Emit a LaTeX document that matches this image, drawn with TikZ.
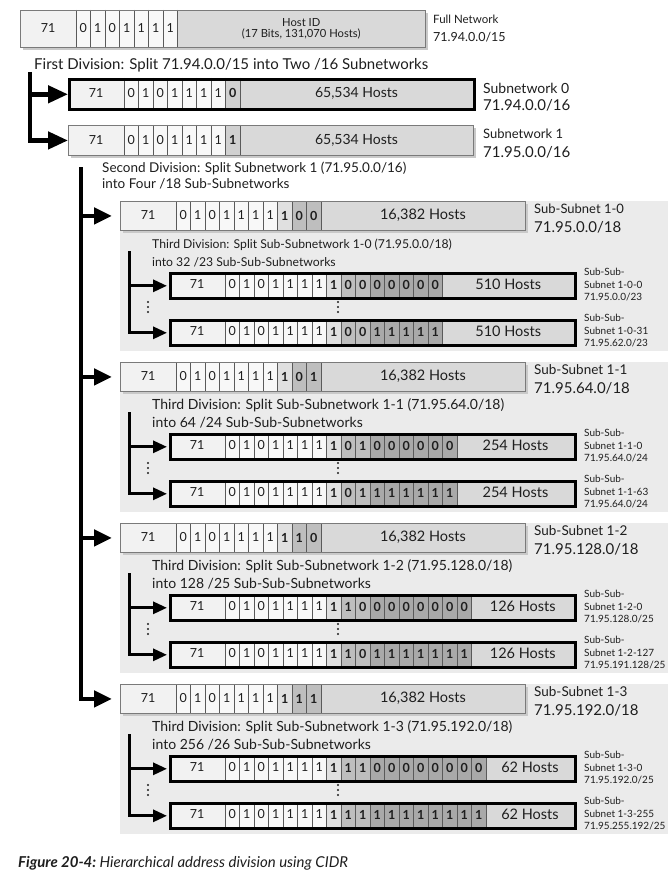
\documentclass[tikz,border=0pt]{standalone}
\usepackage{fontspec}
\setmainfont{Lato}
\usetikzlibrary{arrows.meta}
\definecolor{panelc}{HTML}{EBEBEB}
\definecolor{shadowc}{HTML}{C9C9C9}
\definecolor{hostc}{HTML}{D9D9D9}
\definecolor{c71}{HTML}{F2F2F2}
\definecolor{cellA}{HTML}{F8F8F8}
\definecolor{cellB}{HTML}{E0E0E0}
\definecolor{cellS}{HTML}{D0D0D0}
\definecolor{cellC}{HTML}{BEBEBE}
\definecolor{cellD}{HTML}{A9A9A9}
\definecolor{bordc}{HTML}{7A7A7A}
\definecolor{divc}{HTML}{5A5A5A}
\definecolor{inkc}{HTML}{1E1E1E}
\newcommand\fsz[1]{\fontsize{#1}{#1}\selectfont}
\newcommand\bitfA{\fsz{12.5}}
\newcommand\bitfB{\fsz{12.5}\bfseries}
\newcommand\bitfS{\fsz{12.5}\bfseries}
\newcommand\bitfC{\fsz{12.5}\bfseries}
\newcommand\bitfD{\fsz{12.5}\bfseries}
% #1 name #2 x #3 y #4 h #5 border style #6 nbits #7 bits #8 host text #9 host font size
\newcommand{\abox}[9]{%
  \fill[shadowc] (#2+3,#3+3) rectangle (#2+408,#3+#4+3);
  \fill[hostc] (#2,#3) rectangle (#2+405,#3+#4);
  \fill[c71] (#2,#3) rectangle (#2+56,#3+#4);
  \foreach \bv/\bt [count=\bi from 0] in {#7} {
    \pgfmathsetmacro\xa{#2+56+\bi*14.5}
    \fill[fill=cell\bt] (\xa,#3) rectangle (\xa+14.5,#3+#4);
  }
  \draw[divider] (#2+56,#3) -- (#2+56,#3+#4);
  \node[txt, font=\fsz{12.5}] (#1-n) at (#2+28,#3+#4/2) {71};
  \foreach \bv/\bt [count=\bi from 0] in {#7} {
    \pgfmathsetmacro\xa{#2+56+\bi*14.5}
    \draw[divider] (\xa+14.5,#3) -- (\xa+14.5,#3+#4);
    \node[txt, font=\csname bitf\bt\endcsname] (#1-b\bi) at (\xa+7.25,#3+#4/2) {\bv};
  }
  \pgfmathsetmacro\xh{#2+56+#6*14.5+(405-56-#6*14.5)/2}
  \node[txt, font=\fsz{#9}, align=center] (#1-h) at (\xh,#3+#4/2) {#8};
  \node[#5, minimum width=405pt, minimum height=#4pt, anchor=north west, inner sep=0pt] (#1) at (#2,#3) {};
}
\newcommand{\sslab}[4]{%
  \node[lab, font=\fsz{10}] (#1-1) at (584,#2) {Sub-Sub-};
  \node[lab, font=\fsz{10}] (#1-2) at (584,#2+12.5) {#3};
  \node[lab, font=\fsz{10}] (#1-3) at (584,#2+25) {#4};
}
\newcommand{\vdts}[2]{%
  \fill[inkc] (#1,#2+101) circle (1.2pt);
  \fill[inkc] (#1,#2+106) circle (1.2pt);
  \fill[inkc] (#1,#2+111) circle (1.2pt);
}
\begin{document}
\begin{tikzpicture}[x=1pt,y=-1pt,
  txt/.style={inner sep=0pt, text=inkc},
  lab/.style={anchor=west, inner sep=0pt, text=inkc},
  thinb/.style={draw=bordc, line width=0.9pt},
  thickb/.style={draw=black, line width=2.6pt},
  divider/.style={draw=divc, line width=0.7pt},
  bigline/.style={draw=black, line width=4.5pt, -{Triangle[length=20pt,width=17pt]}},
  midline/.style={draw=black, line width=4.5pt, -{Triangle[length=18pt,width=16pt]}},
  smallline/.style={draw=black, line width=3pt, -{Triangle[length=14pt,width=12pt]}}]
\fill[white] (0,0) rectangle (670,880);
\useasboundingbox (0,0) rectangle (670,880);

% ---- full network
\abox{full}{20}{10}{37}{thinb}{7}{0/A,1/A,0/A,1/A,1/A,1/A,1/A}{\fontsize{11.2}{15}\selectfont Host ID\\(17 Bits, 131,070 Hosts)}{11.2}
\node[lab, font=\fsz{11.5}] (fullA) at (433,19) {Full Network};
\node[lab, font=\fsz{12.5}] (fullB) at (433,37) {71.94.0.0/15};

\node[lab, font=\fsz{15}] (div1) at (34,65) {First Division: Split 71.94.0.0/15 into Two /16 Subnetworks};

% ---- subnetworks
\abox{sn0}{68}{78}{30}{thickb}{8}{0/A,1/A,0/A,1/A,1/A,1/A,1/A,0/S}{65,534 Hosts}{14}
\abox{sn1}{68}{125}{30}{thinb}{8}{0/A,1/A,0/A,1/A,1/A,1/A,1/A,1/S}{65,534 Hosts}{14}
\node[lab, font=\fsz{14}] (sn0A) at (483,88) {Subnetwork 0};
\node[lab, font=\fsz{15}] (sn0B) at (483,105) {71.94.0.0/16};
\node[lab, font=\fsz{13}] (sn1A) at (483,134) {Subnetwork 1};
\node[lab, font=\fsz{15}] (sn1B) at (483,152) {71.95.0.0/16};

\coordinate (bar1) at (30,72);
\draw[bigline] (bar1) |- (sn1.west);
\draw[bigline] (bar1 |- sn0.west) -- (sn0.west);

\node[lab, font=\fsz{13.5}] (div2a) at (102,168) {Second Division: Split Subnetwork 1 (71.95.0.0/16)};
\node[lab, font=\fsz{13.5}] (div2b) at (102,184) {into Four /18 Sub-Subnetworks};

% ---- group 1-0
\fill[panelc] (120,201) rectangle (668,351);
\abox{ss0}{120}{201}{29}{thinb}{10}{0/A,1/A,0/A,1/A,1/A,1/A,1/A,1/B,0/C,0/C}{16,382 Hosts}{14.5}
\node[lab, font=\fsz{13}] (ss0A) at (534,209) {Sub-Subnet 1-0};
\node[lab, font=\fsz{15}] (ss0B) at (534,227) {71.95.0.0/18};
\node[lab, font=\fsz{12.2}] (d30a) at (152,245) {Third Division: Split Sub-Subnetwork 1-0 (71.95.0.0/18)};
\node[lab, font=\fsz{12.2}] (d30b) at (152,262) {into 32 /23 Sub-Sub-Subnetworks};
\abox{s00}{169}{272}{25}{thickb}{15}{0/A,1/A,0/A,1/A,1/A,1/A,1/A,1/B,0/C,0/C,0/D,0/D,0/D,0/D,0/D}{510 Hosts}{14.5}
\abox{s01}{169}{319}{25}{thickb}{15}{0/A,1/A,0/A,1/A,1/A,1/A,1/A,1/B,0/C,0/C,1/D,1/D,1/D,1/D,1/D}{510 Hosts}{14.5}
\sslab{s00l}{272}{Subnet 1-0-0}{71.95.0.0/23}
\sslab{s01l}{318}{Subnet 1-0-31}{71.95.62.0/23}
\vdts{148}{201}\vdts{338}{201}
\coordinate (g0bar) at (129,251);
\draw[smallline] (g0bar) |- ([xshift=-2pt]s01.west);
\draw[smallline] (g0bar |- s00.west) -- ([xshift=-2pt]s00.west);

% ---- group 1-1
\fill[panelc] (120,362) rectangle (668,512);
\abox{ss1}{120}{362}{29}{thinb}{10}{0/A,1/A,0/A,1/A,1/A,1/A,1/A,1/B,0/C,1/C}{16,382 Hosts}{14.5}
\node[lab, font=\fsz{13.5}] (ss1A) at (534,370) {Sub-Subnet 1-1};
\node[lab, font=\fsz{15}] (ss1B) at (534,388) {71.95.64.0/18};
\node[lab, font=\fsz{14}] (d31a) at (152,405) {Third Division: Split Sub-Subnetwork 1-1 (71.95.64.0/18)};
\node[lab, font=\fsz{14}] (d31b) at (152,423) {into 64 /24 Sub-Sub-Subnetworks};
\abox{s10}{169}{433}{25}{thickb}{16}{0/A,1/A,0/A,1/A,1/A,1/A,1/A,1/B,0/C,1/C,0/D,0/D,0/D,0/D,0/D,0/D}{254 Hosts}{14.5}
\abox{s11}{169}{480}{25}{thickb}{16}{0/A,1/A,0/A,1/A,1/A,1/A,1/A,1/B,0/C,1/C,1/D,1/D,1/D,1/D,1/D,1/D}{254 Hosts}{14.5}
\sslab{s10l}{433}{Subnet 1-1-0}{71.95.64.0/24}
\sslab{s11l}{479}{Subnet 1-1-63}{71.95.64.0/24}
\vdts{148}{362}\vdts{338}{362}
\coordinate (g1bar) at (129,412);
\draw[smallline] (g1bar) |- ([xshift=-2pt]s11.west);
\draw[smallline] (g1bar |- s10.west) -- ([xshift=-2pt]s10.west);

% ---- group 1-2
\fill[panelc] (120,523) rectangle (668,673);
\abox{ss2}{120}{523}{29}{thinb}{10}{0/A,1/A,0/A,1/A,1/A,1/A,1/A,1/B,1/C,0/C}{16,382 Hosts}{14.5}
\node[lab, font=\fsz{13.5}] (ss2A) at (534,531) {Sub-Subnet 1-2};
\node[lab, font=\fsz{15}] (ss2B) at (534,549) {71.95.128.0/18};
\node[lab, font=\fsz{14}] (d32a) at (152,566) {Third Division: Split Sub-Subnetwork 1-2 (71.95.128.0/18)};
\node[lab, font=\fsz{14}] (d32b) at (152,584) {into 128 /25 Sub-Sub-Subnetworks};
\abox{s20}{169}{594}{25}{thickb}{17}{0/A,1/A,0/A,1/A,1/A,1/A,1/A,1/B,1/C,0/C,0/D,0/D,0/D,0/D,0/D,0/D,0/D}{126 Hosts}{14.5}
\abox{s21}{169}{641}{25}{thickb}{17}{0/A,1/A,0/A,1/A,1/A,1/A,1/A,1/B,1/C,0/C,1/D,1/D,1/D,1/D,1/D,1/D,1/D}{126 Hosts}{14.5}
\sslab{s20l}{594}{Subnet 1-2-0}{71.95.128.0/25}
\sslab{s21l}{640}{Subnet 1-2-127}{71.95.191.128/25}
\vdts{148}{523}\vdts{338}{523}
\coordinate (g2bar) at (129,573);
\draw[smallline] (g2bar) |- ([xshift=-2pt]s21.west);
\draw[smallline] (g2bar |- s20.west) -- ([xshift=-2pt]s20.west);

% ---- group 1-3
\fill[panelc] (120,684) rectangle (668,834);
\abox{ss3}{120}{684}{29}{thinb}{10}{0/A,1/A,0/A,1/A,1/A,1/A,1/A,1/B,1/C,1/C}{16,382 Hosts}{14.5}
\node[lab, font=\fsz{13.5}] (ss3A) at (534,692) {Sub-Subnet 1-3};
\node[lab, font=\fsz{15}] (ss3B) at (534,710) {71.95.192.0/18};
\node[lab, font=\fsz{14}] (d33a) at (152,727) {Third Division: Split Sub-Subnetwork 1-3 (71.95.192.0/18)};
\node[lab, font=\fsz{14}] (d33b) at (152,745) {into 256 /26 Sub-Sub-Subnetworks};
\abox{s30}{169}{755}{25}{thickb}{18}{0/A,1/A,0/A,1/A,1/A,1/A,1/A,1/B,1/C,1/C,0/D,0/D,0/D,0/D,0/D,0/D,0/D,0/D}{62 Hosts}{14.5}
\abox{s31}{169}{802}{25}{thickb}{18}{0/A,1/A,0/A,1/A,1/A,1/A,1/A,1/B,1/C,1/C,1/D,1/D,1/D,1/D,1/D,1/D,1/D,1/D}{62 Hosts}{14.5}
\sslab{s30l}{755}{Subnet 1-3-0}{71.95.192.0/25}
\sslab{s31l}{801}{Subnet 1-3-255}{71.95.255.192/25}
\vdts{148}{684}\vdts{338}{684}
\coordinate (g3bar) at (129,734);
\draw[smallline] (g3bar) |- ([xshift=-2pt]s31.west);
\draw[smallline] (g3bar |- s30.west) -- ([xshift=-2pt]s30.west);

% ---- main bar 2
\coordinate (bar2) at (81,167);
\draw[midline] (bar2) |- ([xshift=-8pt]ss3.west);
\draw[midline] (bar2 |- ss0.west) -- ([xshift=-8pt]ss0.west);
\draw[midline] (bar2 |- ss1.west) -- ([xshift=-8pt]ss1.west);
\draw[midline] (bar2 |- ss2.west) -- ([xshift=-8pt]ss2.west);

% ---- caption
\node[lab, font=\fsz{15}] (cap) at (18,863) {\bfseries\itshape Figure 20-4:\ \mdseries Hierarchical address division using CIDR};
\end{tikzpicture}
\end{document}
